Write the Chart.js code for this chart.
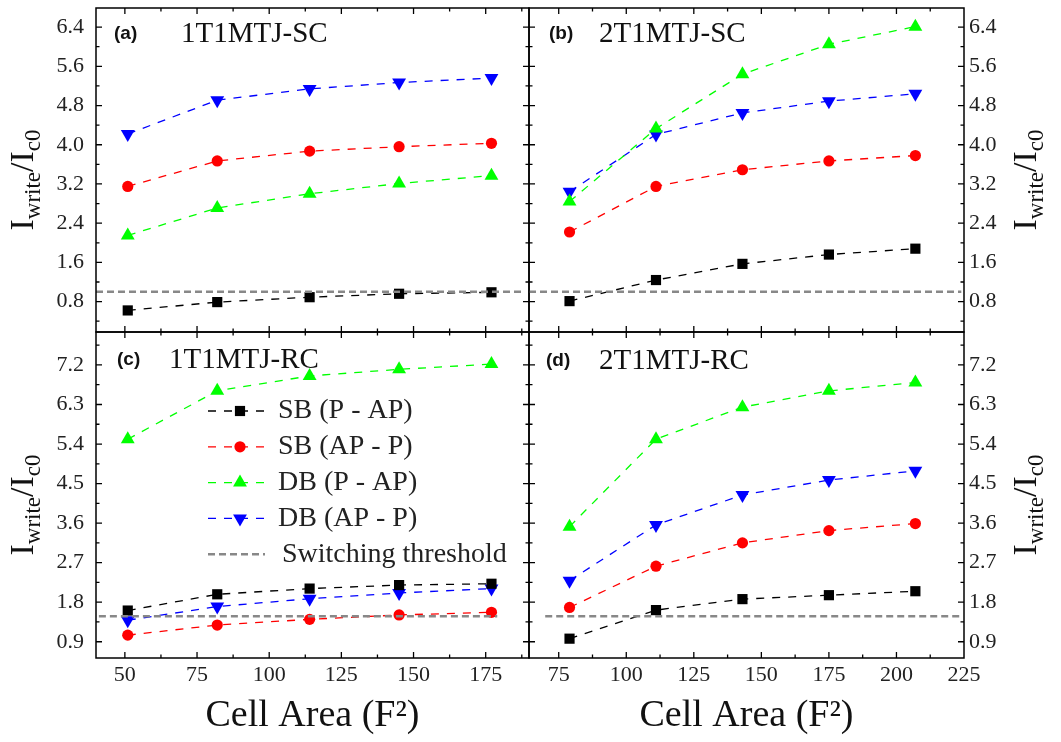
<!DOCTYPE html>
<html>
<head>
<meta charset="utf-8">
<title>Write current vs cell area</title>
<script src="https://cdn.jsdelivr.net/npm/chart.js@4.4.0/dist/chart.umd.min.js"></script>
<style>
  html, body { margin: 0; padding: 0; background: #fff; }
  #wrap { position: relative; width: 1061px; height: 742px; }
  #wrap canvas { position: absolute; left: 0; top: 0; }
</style>
</head>
<body>
<div id="wrap">
  <canvas id="pa" width="1061" height="742"></canvas>
  <canvas id="pb" width="1061" height="742"></canvas>
  <canvas id="pc" width="1061" height="742"></canvas>
  <canvas id="pd" width="1061" height="742"></canvas>
</div>
<script>
// cell area (F^2) for the 1T1MTJ and 2T1MTJ cells
const area1T = [51, 82, 114, 145, 177];
const area2T = [79, 111, 143, 175, 207];

// Iwrite / Ic0, SC case
const sbPap1tSc = [0.62, 0.79, 0.89, 0.96, 0.99];
const sbApp1tSc = [3.15, 3.67, 3.87, 3.96, 4.03];
const dbPap1tSc = [2.15, 2.71, 3.00, 3.21, 3.37];
const dbApp1tSc = [4.22, 4.91, 5.14, 5.27, 5.36];

const sbPap2tSc = [0.81, 1.24, 1.57, 1.76, 1.88];
const sbApp2tSc = [2.22, 3.15, 3.49, 3.67, 3.78];
const dbPap2tSc = [2.84, 4.33, 5.44, 6.05, 6.41];
const dbApp2tSc = [3.04, 4.21, 4.65, 4.89, 5.04];

// Iwrite / Ic0, RC case
const sbPap1tRc = [1.61, 1.98, 2.11, 2.19, 2.22];
const sbApp1tRc = [1.05, 1.28, 1.41, 1.51, 1.57];
const dbPap1tRc = [5.51, 6.61, 6.95, 7.10, 7.22];
const dbApp1tRc = [1.39, 1.70, 1.88, 2.01, 2.11];

const sbPap2tRc = [0.97, 1.62, 1.87, 1.96, 2.05];
const sbApp2tRc = [1.68, 2.62, 3.15, 3.43, 3.59];
const dbPap2tRc = [3.52, 5.51, 6.24, 6.61, 6.80];
const dbApp2tRc = [2.29, 3.56, 4.24, 4.58, 4.79];

// switching threshold level and the area span it is drawn over
const thresholdSc = 1.0;
const thresholdRc = 1.48;
const thrSpanA = [40, 188];
const thrSpanB = [64, 224];
const thrSpanC = [41, 179];
const thrSpanD = [70, 224];

// tick labels
const yTicksSc = [0.8, 1.6, 2.4, 3.2, 4.0, 4.8, 5.6, 6.4];
const yTicksRc = [0.9, 1.8, 2.7, 3.6, 4.5, 5.4, 6.3, 7.2];
const xTicks1T = [50, 75, 100, 125, 150, 175];
const xTicks2T = [75, 100, 125, 150, 175, 200, 225];

const seriesNames = ['SB (P - AP)', 'SB (AP - P)', 'DB (P - AP)', 'DB (AP - P)'];
const thresholdName = 'Switching threshold';

// marker/line style per series
const seriesStyle = [
  { color: '#000000', point: 'rect', radius: 7.2, rot: 0 },
  { color: '#ff0000', point: 'circle', radius: 5.6, rot: 0 },
  { color: '#00ff00', point: 'triangle', radius: 8, rot: 0 },
  { color: '#0000ff', point: 'triangle', radius: 8, rot: 180 }
];

const W = 1061, H = 742, YW = 52, XH = 84;
const SERIF = '"Liberation Serif", "Times New Roman", serif';
Chart.defaults.font.family = SERIF;

function drawMarker(ctx, st, x, y) {
  ctx.save();
  ctx.fillStyle = st.color;
  ctx.beginPath();
  const r = st.radius;
  if (st.point === 'rect') {
    const s = r / Math.SQRT2;
    ctx.rect(x - s, y - s, 2 * s, 2 * s);
  } else if (st.point === 'circle') {
    ctx.arc(x, y, r, 0, Math.PI * 2);
  } else {
    const dir = st.rot ? -1 : 1;
    const h = r * 0.5, w = r * Math.sqrt(3) / 2;
    ctx.moveTo(x, y - dir * r);
    ctx.lineTo(x + w, y + dir * h);
    ctx.lineTo(x - w, y + dir * h);
    ctx.closePath();
  }
  ctx.fill();
  ctx.restore();
}

function drawYTitle(ctx, x, yc) {
  const big = '34px ' + SERIF, small = '23px ' + SERIF;
  const parts = [['I', big, 0], ['write', small, 7], ['/', big, 0], ['I', big, 0], ['c0', small, 7]];
  ctx.save();
  ctx.translate(x, yc);
  ctx.rotate(-Math.PI / 2);
  ctx.fillStyle = '#111';
  ctx.textBaseline = 'alphabetic';
  let total = 0;
  parts.forEach(p => { ctx.font = p[1]; total += ctx.measureText(p[0]).width; });
  let cx = -total / 2;
  parts.forEach(p => {
    ctx.font = p[1];
    ctx.fillText(p[0], cx, p[2]);
    cx += ctx.measureText(p[0]).width;
  });
  ctx.restore();
}

function minorTicks(major, lo, hi) {
  const step = major[1] - major[0];
  const out = [];
  for (let v = major[0] - step / 2; v <= hi + 1e-9; v += step) {
    if (v >= lo - 1e-9) out.push(v);
  }
  return out;
}

// frame, inward ticks on all four sides, panel labels, y title, legend
const panelDecor = {
  id: 'panelDecor',
  afterDatasetsDraw(chart, args, o) {
    const { ctx, chartArea: a, scales } = chart;
    const xs = scales.x, ys = scales.y;
    ctx.save();
    ctx.strokeStyle = '#000';
    ctx.lineWidth = 1.5;
    ctx.strokeRect(a.left, a.top, a.right - a.left, a.bottom - a.top);

    const xMin = minorTicks(o.xTicks, xs.min, xs.max);
    const yMin = minorTicks(o.yTicks, ys.min, ys.max);
    ctx.lineWidth = 1.3;
    ctx.beginPath();
    const xt = (vals, len) => vals.forEach(v => {
      const px = xs.getPixelForValue(v);
      if (px < a.left + 1 || px > a.right - 1) return;
      ctx.moveTo(px, a.bottom); ctx.lineTo(px, a.bottom - len);
      ctx.moveTo(px, a.top); ctx.lineTo(px, a.top + len);
    });
    const yt = (vals, len) => vals.forEach(v => {
      const py = ys.getPixelForValue(v);
      if (py < a.top + 1 || py > a.bottom - 1) return;
      ctx.moveTo(a.left, py); ctx.lineTo(a.left + len, py);
      ctx.moveTo(a.right, py); ctx.lineTo(a.right - len, py);
    });
    xt(o.xTicks, 6); xt(xMin, 3.5);
    yt(o.yTicks, 6); yt(yMin, 3.5);
    ctx.stroke();

    // panel tag and cell name
    ctx.fillStyle = '#111';
    ctx.textBaseline = 'alphabetic';
    ctx.font = 'bold 19px "Liberation Sans", Arial, sans-serif';
    ctx.fillText(o.tag, o.tagX, o.textY - 3);
    ctx.font = '29px ' + SERIF;
    ctx.fillText(o.name, o.nameX, o.textY);

    drawYTitle(ctx, o.yPos === 'left' ? 33 : 1036, (a.top + a.bottom) / 2 + 10);

    if (o.legend) {
      const x0 = 208, x1 = 272, mx = 240, tx = 278;
      const rowY = i => 411 + i * 35.8;
      ctx.font = '28px ' + SERIF;
      ctx.textBaseline = 'middle';
      seriesNames.forEach((name, i) => {
        const st = seriesStyle[i];
        const y = rowY(i);
        ctx.save();
        ctx.strokeStyle = st.color;
        ctx.lineWidth = 1.3;
        ctx.setLineDash([8, 8]);
        ctx.beginPath(); ctx.moveTo(x0, y); ctx.lineTo(x1, y); ctx.stroke();
        ctx.restore();
        drawMarker(ctx, st, mx, y);
        ctx.fillStyle = '#222';
        ctx.fillText(name, tx, y);
      });
      const y = rowY(4);
      ctx.save();
      ctx.strokeStyle = '#888';
      ctx.lineWidth = 2.6;
      ctx.setLineDash([7, 4]);
      ctx.beginPath(); ctx.moveTo(x0, y); ctx.lineTo(265, y); ctx.stroke();
      ctx.restore();
      ctx.fillStyle = '#222';
      ctx.fillText(thresholdName, 282, y);
    }
    ctx.restore();
  }
};

function makePanel(p) {
  const [l, t, r, b] = p.area;
  const datasets = p.series.map((vals, i) => {
    const st = seriesStyle[i];
    return {
      label: seriesNames[i],
      data: vals.map((v, k) => ({ x: p.x[k], y: v })),
      borderColor: st.color,
      backgroundColor: st.color,
      borderWidth: 1.3,
      borderDash: [8, 8],
      pointStyle: st.point,
      pointRadius: st.radius,
      pointRotation: st.rot,
      pointBorderWidth: 0,
      tension: 0
    };
  });
  datasets.push({
    label: thresholdName,
    data: p.thrSpan.map(x => ({ x: x, y: p.thr })),
    borderColor: '#888',
    borderWidth: 2.6,
    borderDash: [7, 4],
    pointRadius: 0,
    order: -1
  });

  const padding = {
    left: p.yPos === 'left' ? l - YW : l,
    right: p.yPos === 'left' ? W - r : W - r - YW,
    top: t,
    bottom: p.showX ? H - b - XH : H - b
  };

  return new Chart(document.getElementById(p.id), {
    type: 'line',
    data: { datasets },
    options: {
      responsive: false,
      animation: false,
      devicePixelRatio: 1,
      events: [],
      layout: { padding },
      plugins: {
        legend: { display: false },
        tooltip: { enabled: false },
        panelDecor: p
      },
      scales: {
        x: {
          type: 'linear',
          min: p.xRange[0],
          max: p.xRange[1],
          display: p.showX,
          grid: { display: false, drawTicks: false },
          border: { display: false },
          afterBuildTicks: s => { s.ticks = p.xTicks.map(v => ({ value: v })); },
          afterFit: s => {
            s.height = p.showX ? XH : 0;
            s.paddingLeft = 0; s.paddingRight = 0;
          },
          ticks: {
            padding: 4,
            color: '#222',
            font: { size: 22 },
            maxRotation: 0,
            callback: v => String(v)
          },
          title: {
            display: true,
            text: 'Cell Area (F²)',
            color: '#111',
            font: { size: 38 },
            padding: { top: 0, bottom: 3 }
          }
        },
        y: {
          type: 'linear',
          position: p.yPos,
          min: p.yRange[0],
          max: p.yRange[1],
          grid: { display: false, drawTicks: false },
          border: { display: false },
          afterBuildTicks: s => { s.ticks = p.yTicks.map(v => ({ value: v })); },
          afterFit: s => {
            s.width = YW;
            s.paddingTop = 0; s.paddingBottom = 0;
          },
          ticks: {
            padding: p.yPos === 'left' ? 12 : 5,
            color: '#222',
            font: { size: 22 },
            callback: v => v.toFixed(1)
          }
        }
      }
    },
    plugins: [panelDecor]
  });
}

makePanel({
  id: 'pa', area: [96, 4, 529, 332], x: area1T, xRange: [40, 190], xTicks: xTicks1T,
  yRange: [0.18, 6.79], yTicks: yTicksSc,
  series: [sbPap1tSc, sbApp1tSc, dbPap1tSc, dbApp1tSc],
  thr: thresholdSc, thrSpan: thrSpanA, yPos: 'left', showX: false,
  tag: '(a)', name: '1T1MTJ-SC', tagX: 114, nameX: 181, textY: 42
});
makePanel({
  id: 'pb', area: [529, 4, 964, 332], x: area2T, xRange: [64, 225], xTicks: xTicks2T,
  yRange: [0.18, 6.79], yTicks: yTicksSc,
  series: [sbPap2tSc, sbApp2tSc, dbPap2tSc, dbApp2tSc],
  thr: thresholdSc, thrSpan: thrSpanB, yPos: 'right', showX: false,
  tag: '(b)', name: '2T1MTJ-SC', tagX: 549, nameX: 599, textY: 42
});
makePanel({
  id: 'pc', area: [96, 332, 529, 658], x: area1T, xRange: [40, 190], xTicks: xTicks1T,
  yRange: [0.53, 7.95], yTicks: yTicksRc,
  series: [sbPap1tRc, sbApp1tRc, dbPap1tRc, dbApp1tRc],
  thr: thresholdRc, thrSpan: thrSpanC, yPos: 'left', showX: true,
  tag: '(c)', name: '1T1MTJ-RC', tagX: 117, nameX: 169, textY: 368, legend: true
});
makePanel({
  id: 'pd', area: [529, 332, 964, 658], x: area2T, xRange: [64, 225], xTicks: xTicks2T,
  yRange: [0.53, 7.95], yTicks: yTicksRc,
  series: [sbPap2tRc, sbApp2tRc, dbPap2tRc, dbApp2tRc],
  thr: thresholdRc, thrSpan: thrSpanD, yPos: 'right', showX: true,
  tag: '(d)', name: '2T1MTJ-RC', tagX: 546, nameX: 599, textY: 369
});
</script>
</body>
</html>
